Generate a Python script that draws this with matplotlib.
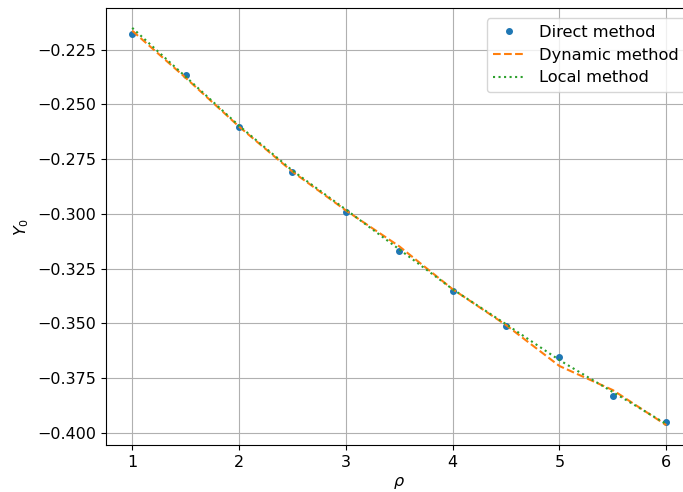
import matplotlib
matplotlib.use("Agg")
import matplotlib.pyplot as plt

rho = [1.0, 1.5, 2.0, 2.5, 3.0, 3.5, 4.0, 4.5, 5.0, 5.5, 6.0]
direct = [-0.2177, -0.2364, -0.2601, -0.2807, -0.2989, -0.3171, -0.3350, -0.3513, -0.3655, -0.3833, -0.3952]
dynamic = [-0.2163, -0.2378, -0.2601, -0.2807, -0.2984, -0.3148, -0.3344, -0.3508, -0.3695, -0.3805, -0.3965]
local = [-0.2150, -0.2373, -0.2597, -0.2802, -0.2980, -0.3162, -0.3344, -0.3504, -0.3668, -0.3814, -0.3960]

plt.rcParams['font.size'] = 11.5
W, H = 683, 492
fig = plt.figure(figsize=(W / 100, H / 100), dpi=100)
left, right, top, bottom = 105.5, 693, 8, 445
ax = fig.add_axes([left / W, 1 - bottom / H, (right - left) / W, (bottom - top) / H])
ax.plot(rho, direct, 'o', markersize=4, label='Direct method')
ax.plot(rho, dynamic, '--', label='Dynamic method')
ax.plot(rho, local, ':', label='Local method')
ax.set_xlim(0.75, 6.25)
ax.set_xlabel(r'$\rho$')
ax.set_ylabel(r'$Y_0$')
ax.grid(True)
ax.legend(loc='upper right', fontsize=11.7, labelspacing=0.48,
          bbox_to_anchor=(1.0, 0.995))
fig.savefig('out.png')
